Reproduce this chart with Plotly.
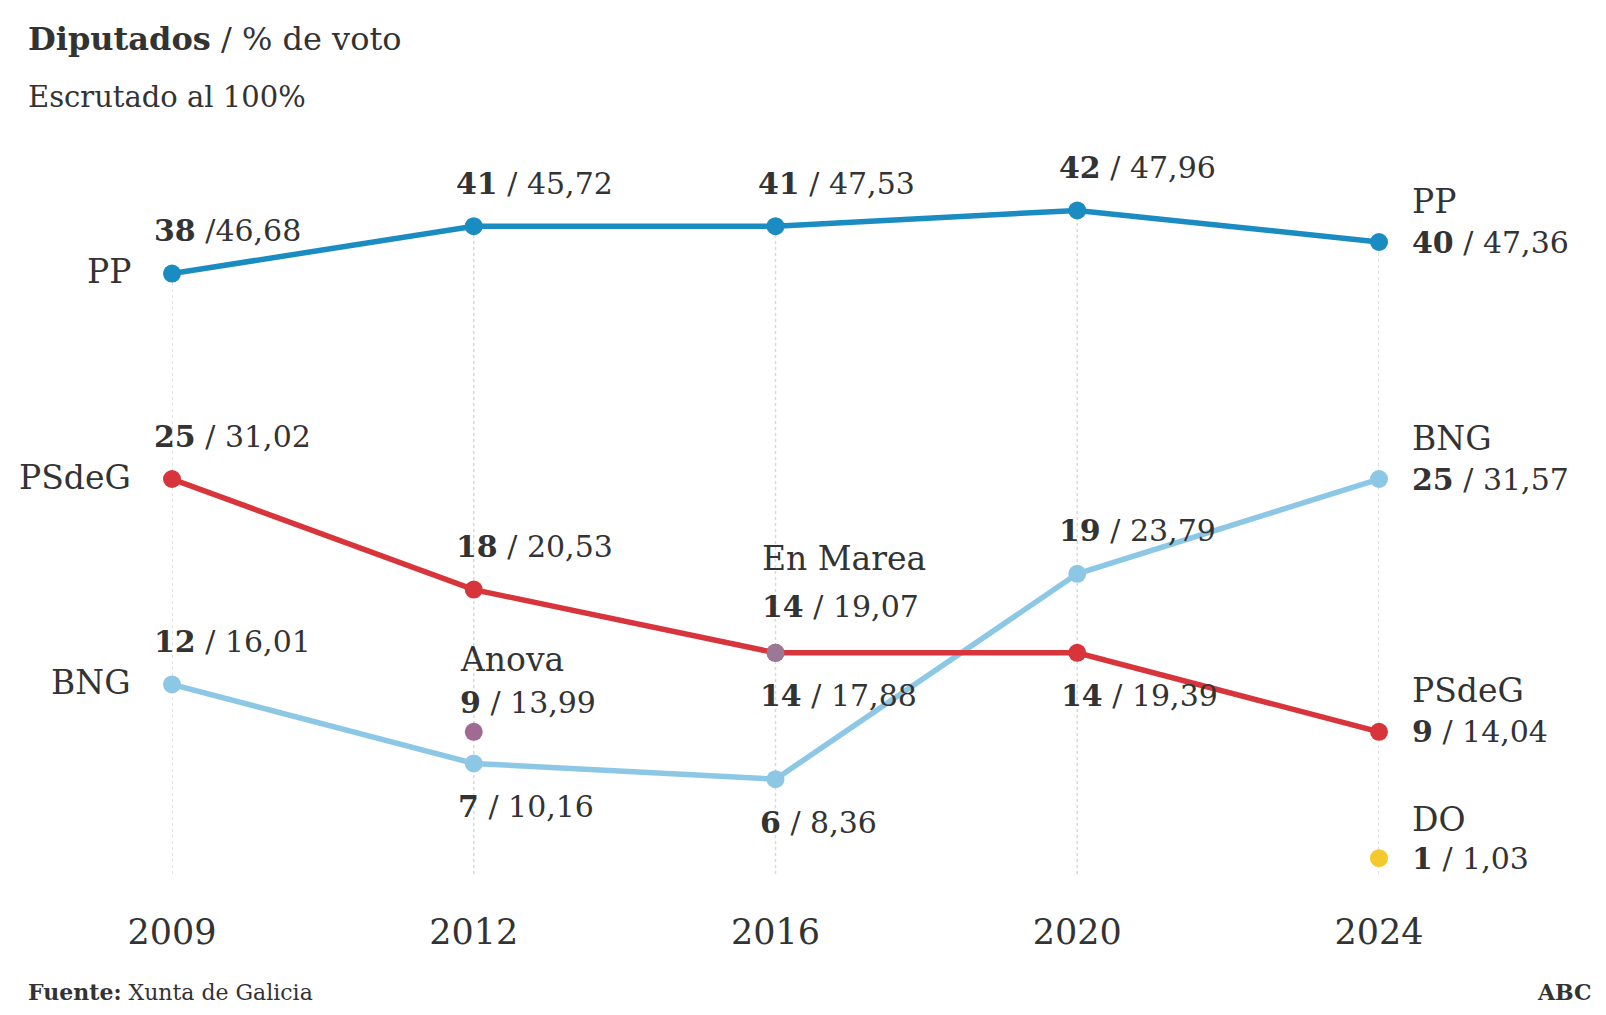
import plotly.graph_objects as go

years = ["2009", "2012", "2016", "2020", "2024"]

pp_seats = [38, 41, 41, 42, 40]
pp_votes = ["46,68", "45,72", "47,53", "47,96", "47,36"]
psdeg_seats = [25, 18, 14, 14, 9]
psdeg_votes = ["31,02", "20,53", "17,88", "19,39", "14,04"]
bng_seats = [12, 7, 6, 19, 25]
bng_votes = ["16,01", "10,16", "8,36", "23,79", "31,57"]

anova_year, anova_seats, anova_votes = "2012", 9, "13,99"
marea_year, marea_seats, marea_votes = "2016", 14, "19,07"
do_year, do_seats, do_votes = "2024", 1, "1,03"

# label placement per point (style only)
pp_pos = ["above", "above", "above", "above", "right"]
psdeg_pos = ["above", "above", "below", "below", "right"]
bng_pos = ["above", "below", "below", "above", "right"]

C_PP = "#1a8cc1"
C_PS = "#d8343b"
C_BNG = "#8cc8e6"
C_ANOVA = "#a06a92"
C_MAREA = "#9a7896"
C_DO = "#f4c92e"
TXT = "#333333"
FONT = "DejaVu Serif"
FS = 30      # value labels
FN = 33      # party names

xi = {y: i for i, y in enumerate(years)}

fig = go.Figure()

# vertical dotted grid lines
for i, y in enumerate(years):
    top = max(pp_seats[i], psdeg_seats[i], bng_seats[i])
    fig.add_shape(type="line", x0=i, x1=i, y0=0, y1=top, xref="x", yref="y",
                  line=dict(color="#d9d9d9", width=1.5, dash="dot"), layer="below")

# baseline
fig.add_shape(type="line", x0=0, x1=len(years) - 1, y0=-0.25, y1=-0.25, xref="x", yref="y",
              line=dict(color="#808080", width=3), layer="below")

for name, seats, color in [("BNG", bng_seats, C_BNG), ("PSdeG", psdeg_seats, C_PS), ("PP", pp_seats, C_PP)]:
    fig.add_trace(go.Scatter(x=list(range(len(years))), y=seats, mode="lines+markers", name=name,
                             line=dict(color=color, width=5.5), marker=dict(color=color, size=18),
                             cliponaxis=False, showlegend=False, hoverinfo="skip"))

for name, yr, s, color in [("Anova", anova_year, anova_seats, C_ANOVA),
                           ("En Marea", marea_year, marea_seats, C_MAREA),
                           ("DO", do_year, do_seats, C_DO)]:
    fig.add_trace(go.Scatter(x=[xi[yr]], y=[s], mode="markers", name=name,
                             marker=dict(color=color, size=18), cliponaxis=False,
                             showlegend=False, hoverinfo="skip"))

ann = []


def txt(x, y, text, size, xanchor="left", xshift=0, yshift=0):
    ann.append(dict(x=x, y=y, text=text, xanchor=xanchor, yanchor="middle", xshift=xshift,
                    yshift=yshift, showarrow=False, font=dict(size=size, color=TXT, family=FONT)))


def lab(seats, votes, sep=" / "):
    return f"<b>{seats}</b>{sep}{votes}"


def add_series_labels(name, seats, votes, pos):
    txt(0, seats[0], name, FN, xanchor="right", xshift=-39, yshift=2)
    for i, (s, v, p) in enumerate(zip(seats, votes, pos)):
        sep = " /" if (name == "PP" and i == 0) else " / "
        t = lab(s, v, sep)
        if p == "above":
            txt(i, s, t, FS, xshift=-20, yshift=43)
        elif p == "below":
            txt(i, s, t, FS, xshift=-18, yshift=-43)
        else:
            txt(i, s, name, FN, xshift=31, yshift=41)
            txt(i, s, t, FS, xshift=31, yshift=0)


add_series_labels("PP", pp_seats, pp_votes, pp_pos)
add_series_labels("PSdeG", psdeg_seats, psdeg_votes, psdeg_pos)
add_series_labels("BNG", bng_seats, bng_votes, bng_pos)

txt(xi[anova_year], anova_seats, "Anova", FN, xshift=-16, yshift=72)
txt(xi[anova_year], anova_seats, lab(anova_seats, anova_votes), FS, xshift=-16, yshift=29)
txt(xi[marea_year], marea_seats, "En Marea", FN, xshift=-16, yshift=94)
txt(xi[marea_year], marea_seats, lab(marea_seats, marea_votes), FS, xshift=-16, yshift=46)
txt(xi[do_year], do_seats, "DO", FN, xshift=31, yshift=39)
txt(xi[do_year], do_seats, lab(do_seats, do_votes), FS, xshift=31, yshift=0)

# figure sized so that the page (with 8px body margin) fills the window exactly
OFF = 8
W, H = 1590, 999
L, R, T, B = 164, 219, 155, 133
pw, ph = W - L - R, H - T - B
S = 0.9763  # scale between measured reference coordinates and screen pixels


def paper_txt(fx, fy, text, size, xanchor="left"):
    # fx, fy: figure pixel coordinates from the top-left corner
    ann.append(dict(x=(fx - L) / pw, y=((H - fy) - B) / ph, xref="paper", yref="paper", text=text,
                    xanchor=xanchor, yanchor="middle", showarrow=False,
                    font=dict(size=size, color=TXT, family=FONT)))


paper_txt(25 / S - OFF, 38 / S - OFF, "<b>Diputados</b> / % de voto", 32)
paper_txt(25 / S - OFF, 95 / S - OFF, "Escrutado al 100%", 29)
paper_txt(25 / S - OFF, 984, "<b>Fuente:</b> Xunta de Galicia", 22)
paper_txt(W - 4, 984, "<b>ABC</b>", 22, xanchor="right")

fig.update_layout(
    width=W, height=H,
    margin=dict(l=L, r=R, t=T, b=B),
    paper_bgcolor="white", plot_bgcolor="white",
    xaxis=dict(range=[0, len(years) - 1], tickmode="array", tickvals=list(range(len(years))),
               ticktext=years, showgrid=False, zeroline=False, showline=False,
               tickfont=dict(size=35, color=TXT, family=FONT), ticks="", ticklabelstandoff=34),
    yaxis=dict(range=[0, 45], visible=False, showgrid=False, zeroline=False),
    annotations=ann,
    showlegend=False,
)

fig.write_html("out.html")
